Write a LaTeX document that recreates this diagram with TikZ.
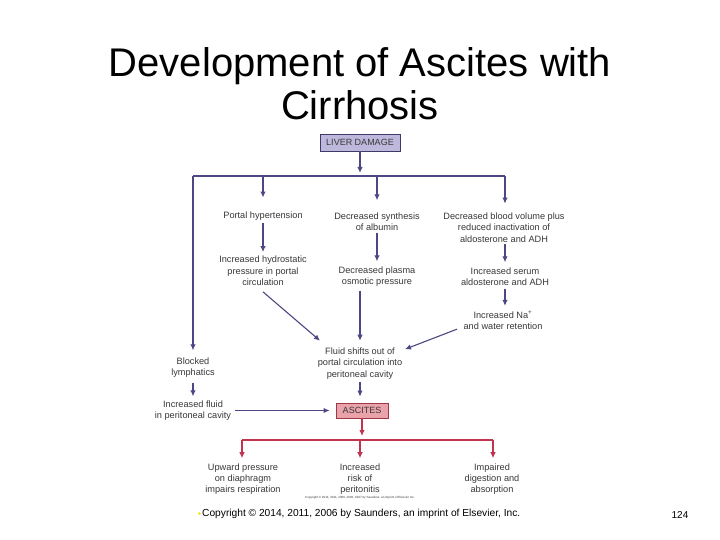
\documentclass[tikz,border=0pt]{standalone}
\usepackage{fontspec}
\setmainfont{Liberation Sans}
\usetikzlibrary{arrows.meta,calc}
\definecolor{pur}{HTML}{4B4883}
\definecolor{redc}{HTML}{C0344E}
\definecolor{txt}{HTML}{383838}
\definecolor{ldfill}{HTML}{BEB8DC}
\definecolor{ascfill}{HTML}{EBA3AB}
\definecolor{ascdraw}{HTML}{9E3846}
\tikzset{
  lbl/.style={align=center, inner sep=2pt, text=txt, font=\fontsize{9.2}{11.3}\selectfont},
  parr/.style={draw=pur, line width=1.1pt, -{Latex[length=6pt,width=5.5pt]}},
  pline/.style={draw=pur, line width=1.1pt},
  rarr/.style={draw=redc, line width=1.1pt, -{Latex[length=6pt,width=5.5pt]}},
  rline/.style={draw=redc, line width=1.1pt},
  boxld/.style={draw=pur!80!black, line width=0.9pt, fill=ldfill, minimum width=80pt, minimum height=17pt, inner sep=0pt, text=txt, font=\fontsize{9}{10}\selectfont},
  boxasc/.style={draw=ascdraw, line width=0.9pt, fill=ascfill, minimum width=52pt, minimum height=15pt, inner sep=0pt, text=txt, font=\fontsize{9}{10}\selectfont},
  ttl/.style={anchor=base, inner sep=0pt, font=\fontsize{40}{43}\selectfont}
}
\begin{document}
\begin{tikzpicture}[x=1pt,y=-1pt]
\useasboundingbox[fill=white] (0,0) rectangle (720,540);
% title
\node[ttl] (title1) at (360,77) {Development of Ascites with};
\node[ttl] (title2) at (360,120) {Cirrhosis};
% nodes
\node[boxld] (lvr) at (360,142.5) {LIVER DAMAGE};
\node[lbl] (ph) at (263,216) {Portal hypertension};
\node[lbl] (dsa) at (377,221.5) {Decreased synthesis\\of albumin};
\node[lbl] (dbv) at (504,227.5) {Decreased blood volume plus\\reduced inactivation of\\aldosterone and ADH};
\node[lbl] (ihp) at (263,271) {Increased hydrostatic\\pressure in portal\\circulation};
\node[lbl] (dpo) at (377,276.5) {Decreased plasma\\osmotic pressure};
\node[lbl] (isa) at (505,276.5) {Increased serum\\aldosterone and ADH};
\node[lbl] (ina) at (503,320.5) {Increased Na\textsuperscript{+}\\and water retention};
\node[lbl] (fs) at (360,363.5) {Fluid shifts out of\\portal circulation into\\peritoneal cavity};
\node[lbl] (bl) at (193,367.5) {Blocked\\lymphatics};
\node[lbl] (ifl) at (193,410.5) {Increased fluid\\in peritoneal cavity};
\node[boxasc] (asc) at (362,410.5) {ASCITES};
\node[lbl] (up) at (243,479) {Upward pressure\\on diaphragm\\impairs respiration};
\node[lbl] (irp) at (360,479) {Increased\\risk of\\peritonitis};
\node[lbl] (idg) at (492,479) {Impaired\\digestion and\\absorption};
% junctions
\coordinate (jl) at (193,176);
\coordinate (jm) at (360,176);
\coordinate (j1) at (263,176);
\coordinate (j2) at (377,176);
\coordinate (j3) at (505,176);
\coordinate (rl) at (242,440);
\coordinate (rm) at (362,440);
\coordinate (rc) at (360,440);
\coordinate (rr) at (493,440);
% purple connectors
\draw[parr, shorten >=3pt] (lvr.south) -- (jm);
\draw[pline] (jl) -- (j3);
\draw[parr, shorten >=12pt] (j1) -- (ph.north);
\draw[parr, shorten >=10pt] (j2) -- (dsa.north);
\draw[parr, shorten >=7pt] (j3) -- (j3 |- dbv.north);
\draw[parr, shorten <=1pt, shorten >=2pt] (ph.south) -- (ihp.north);
\draw[parr, shorten >=3pt] (dsa.south) -- (dpo.north);
\draw[parr, shorten >=3pt] (j3 |- dbv.south) -- (j3 |- isa.north);
\draw[parr, shorten <=1pt, shorten >=3pt] (j3 |- isa.south) -- (j3 |- ina.north);
\draw[parr] ([yshift=-4pt]ihp.south) -- ([xshift=-40pt,yshift=5pt]fs.north);
\draw[parr] ([xshift=-46pt,yshift=3pt]ina.south) -- ([xshift=45pt,yshift=-3.5pt]fs.north);
\draw[parr, shorten <=2pt, shorten >=5pt] (dpo.south -| fs.north) -- (fs.north);
\draw[parr, shorten >=5pt] (jl) -- (bl.north);
\draw[parr, shorten <=3pt, shorten >=2pt] (bl.south) -- (ifl.north);
\draw[parr, shorten <=1pt, shorten >=6pt] (fs.south) -- (fs.south |- asc.north);
\draw[parr, shorten <=2pt, shorten >=6pt] (ifl.east |- asc.west) -- (asc.west);
% red connectors
\draw[rarr, shorten >=4pt] (asc.south) -- (rm);
\draw[rline] (rl) -- (rr);
\draw[rarr, shorten >=3pt] (rl) -- (rl |- up.north);
\draw[rarr, shorten >=3pt] (rc) -- (irp.north);
\draw[rarr, shorten >=3pt] (rr) -- (rr |- idg.north);
% copyright texts
\node[font=\fontsize{3}{4}\selectfont, text=txt, inner sep=0pt] (csmall) at (360,498) {Copyright \textcopyright\ 2014, 2011, 2006, 2002, 1997 by Saunders, an imprint of Elsevier Inc.};
\fill[yellow!80!orange] (199.5,513.5) circle (1.3pt);
\node[anchor=west, font=\fontsize{10.2}{12}\selectfont, inner sep=0pt] (cbig) at (202,513.5) {Copyright \textcopyright\ 2014, 2011, 2006 by Saunders, an imprint of Elsevier, Inc.};
\node[font=\fontsize{10}{12}\selectfont, inner sep=0pt] (pg) at (680,515) {124};
\end{tikzpicture}
\end{document}
